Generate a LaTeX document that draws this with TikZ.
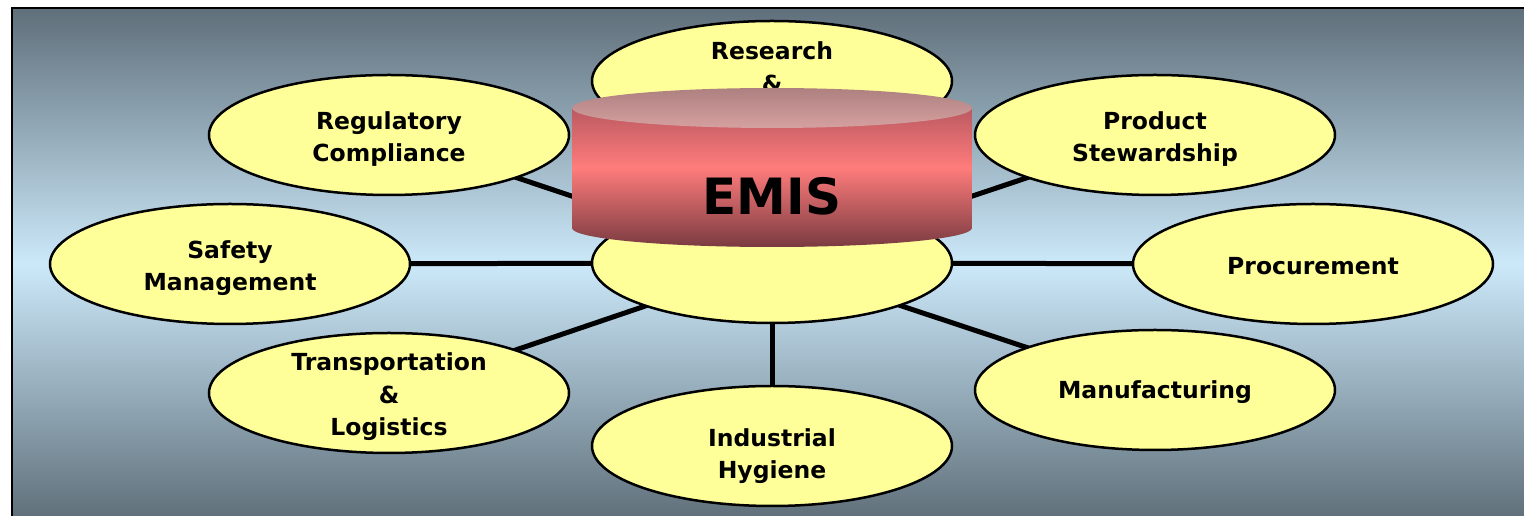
\documentclass[tikz,border=0pt]{standalone}
\usepackage{fontspec}
\setmainfont{DejaVu Sans}
\usetikzlibrary{shapes.geometric,backgrounds}

\definecolor{hgdunkel}{RGB}{95,111,122}
\definecolor{hghell}{RGB}{204,233,250}
\definecolor{gelb}{RGB}{255,255,153}
\definecolor{mantelA}{RGB}{184,88,96}
\definecolor{mantelB}{RGB}{255,124,124}
\definecolor{mantelC}{RGB}{120,58,64}
\definecolor{deckelA}{RGB}{174,128,128}
\definecolor{deckelB}{RGB}{214,160,160}

% Name, x, y, Textverschiebung, Text
\def\thema#1#2#3#4#5{
	\node[thema,label={[themaschrift,yshift=#4]center:#5}] (#1) at (#2,#3) {};
}

\begin{document}
\begin{tikzpicture}[x=1pt,y=1pt,
	thema/.style={ellipse,draw=black,line width=2.5pt,fill=gelb,
		minimum width=360pt,minimum height=120pt,inner sep=0pt},
	themaschrift/.style={align=center,inner sep=0pt,
		font=\fontsize{23.5}{32.5}\selectfont\bfseries},
	kante/.style={line width=5pt}]
\useasboundingbox (0,0) rectangle (1524,516);

\thema{research}{772}{435}{-7pt}{Research\\\&\\\strut}
\thema{regulatory}{389}{381}{-4pt}{Regulatory\\Compliance}
\thema{product}{1155}{381}{-4pt}{Product\\Stewardship}
\thema{safety}{230}{252}{-4pt}{Safety\\Management}
\thema{procurement}{1313}{252}{-2pt}{Procurement}
\thema{transport}{389}{123}{-4pt}{Transportation\\\&\\Logistics}
\thema{manufacturing}{1155}{126}{-2pt}{Manufacturing}
\thema{hygiene}{772}{70}{-10pt}{Industrial\\Hygiene}
\node[thema] (hub) at (772,253) {};

\begin{pgfonlayer}{background}
\shade[top color=hgdunkel,bottom color=hghell] (12,252) rectangle (1540,508);
\shade[top color=hghell,bottom color=hgdunkel] (12,-4) rectangle (1540,252.5);
\draw[line width=2pt] (12,-4) rectangle (1540,508);
\foreach \z in {regulatory,product,safety,procurement,transport,manufacturing,hygiene}{
	\draw[kante] (hub.center) -- (\z.center);
}
\end{pgfonlayer}

% Datenbank
\begin{scope}
\clip (572,408) -- (572,288) arc[start angle=180,end angle=360,x radius=200,y radius=19]
	-- (972,408) -- cycle;
\shade[top color=mantelA,bottom color=mantelB] (572,348) rectangle (972,410);
\shade[top color=mantelB,bottom color=mantelC] (572,268) rectangle (972,348.5);
\end{scope}
\shade[top color=deckelA,bottom color=deckelB] (772,408) ellipse[x radius=200,y radius=20];
\node[font=\fontsize{50}{60}\selectfont\bfseries] (emis) at (772,320) {EMIS};
\end{tikzpicture}
\end{document}
